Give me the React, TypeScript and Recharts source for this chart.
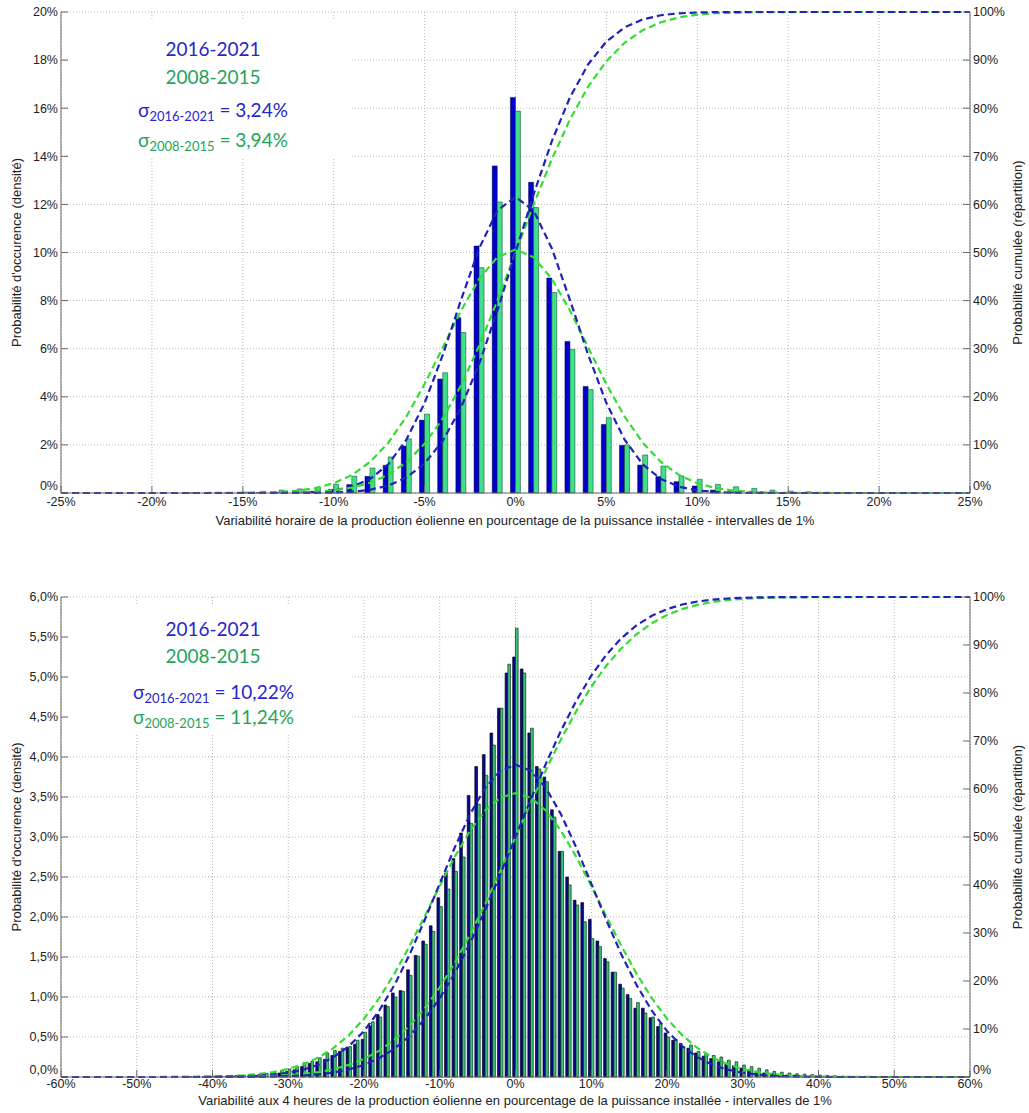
import React from 'react';
import { ComposedChart, Bar, Line, XAxis, YAxis, CartesianGrid } from 'recharts';

// ---------- TOP PANEL (hourly variability, 1% bins) ----------
const TOP_X = [-25,-24,-23,-22,-21,-20,-19,-18,-17,-16,-15,-14,-13,-12,-11,-10,-9,-8,-7,-6,-5,-4,-3,-2,-1,0,1,2,3,4,5,6,7,8,9,10,11,12,13,14,15,16,17,18,19,20,21,22,23,24,25];
const TOP_BLUE = [0,0,0,0,0,0,0,0,0,0,0.005,0.01,0.02,0.03,0.07,0.15,0.35,0.69,1.15,1.95,3.03,4.74,7.29,10.27,13.6,16.45,12.92,8.94,6.3,4.43,2.85,1.98,1.16,0.68,0.47,0.29,0.12,0.05,0.03,0.01,0.005,0,0,0,0,0,0,0,0,0,0];
const TOP_GREEN = [0,0,0,0,0,0,0,0.005,0.01,0.02,0.04,0.07,0.12,0.17,0.24,0.36,0.7,1.04,1.5,2.25,3.28,5.0,6.67,9.37,12.1,15.88,11.87,8.34,5.97,4.3,3.13,2.0,1.58,1.12,0.71,0.57,0.36,0.26,0.19,0.12,0.08,0.05,0.03,0.02,0.01,0,0,0,0,0,0];
const TOP_PDF_BLUE = [0,0,0,0,0,0,0,0,0,0,0,0.001,0.004,0.013,0.039,0.105,0.26,0.58,1.19,2.22,3.74,5.74,8.02,10.17,11.74,12.31,11.74,10.17,8.02,5.74,3.74,2.22,1.19,0.58,0.26,0.105,0.039,0.013,0.004,0.001,0,0,0,0,0,0,0,0,0,0,0];
const TOP_PDF_GREEN = [0,0,0,0,0,0,0,0,0.001,0.003,0.007,0.018,0.044,0.098,0.206,0.404,0.745,1.29,2.09,3.18,4.53,6.05,7.58,8.9,9.8,10.13,9.8,8.9,7.58,6.05,4.53,3.18,2.09,1.29,0.745,0.404,0.206,0.098,0.044,0.018,0.007,0.003,0.001,0,0,0,0,0,0,0,0];
const TOP_CDF_BLUE = [0,0,0,0,0,0,0,0,0,0,0,0,0.003,0.01,0.03,0.1,0.27,0.68,1.54,3.2,6.14,10.85,17.72,26.85,37.88,50,62.12,73.15,82.28,89.15,93.86,96.8,98.46,99.32,99.73,99.9,99.97,99.99,99.997,100,100,100,100,100,100,100,100,100,100,100,100];
const TOP_CDF_GREEN = [0,0,0,0,0,0,0,0,0,0.002,0.007,0.02,0.05,0.12,0.26,0.56,1.12,2.12,3.78,6.39,10.22,15.5,22.32,30.59,39.98,50,60.02,69.41,77.68,84.5,89.78,93.61,96.22,97.88,98.88,99.44,99.74,99.88,99.95,99.98,99.993,99.998,100,100,100,100,100,100,100,100,100];
const TOP_X_TICKS = [-25,-20,-15,-10,-5,0,5,10,15,20,25];
const TOP_Y_TICKS = [0,2,4,6,8,10,12,14,16,18,20];

// ---------- BOTTOM PANEL (4-hour variability, 1% bins) ----------
const BOT_BAR_X = [-45,-44,-43,-42,-41,-40,-39,-38,-37,-36,-35,-34,-33,-32,-31,-30,-29,-28,-27,-26,-25,-24,-23,-22,-21,-20,-19,-18,-17,-16,-15,-14,-13,-12,-11,-10,-9,-8,-7,-6,-5,-4,-3,-2,-1,0,1,2,3,4,5,6,7,8,9,10,11,12,13,14,15,16,17,18,19,20,21,22,23,24,25,26,27,28,29,30,31,32,33,34,35,36,37,38,39,40,41,42,43,44,45];
const BOT_BLUE = [0,0,0.001,0.002,0.003,0.005,0.006,0.008,0.01,0.012,0.015,0.02,0.03,0.04,0.05,0.07,0.09,0.13,0.17,0.19,0.22,0.27,0.32,0.37,0.41,0.47,0.64,0.78,0.9,1.05,1.08,1.34,1.52,1.7,1.89,2.24,2.55,2.73,3.05,3.52,3.88,4.03,4.3,4.61,5.05,5.25,5.1,4.3,3.88,3.75,3.34,2.82,2.5,2.21,2.18,1.97,1.7,1.48,1.31,1.16,1.03,0.86,0.86,0.74,0.63,0.55,0.46,0.42,0.36,0.3,0.26,0.23,0.19,0.16,0.14,0.11,0.09,0.07,0.05,0.04,0.03,0.025,0.02,0.015,0.01,0.01,0.005,0.005,0.003,0.002,0.001];
const BOT_GREEN = [0.002,0.003,0.004,0.005,0.007,0.01,0.012,0.015,0.018,0.02,0.025,0.03,0.045,0.06,0.08,0.1,0.13,0.18,0.2,0.24,0.3,0.33,0.36,0.38,0.46,0.56,0.69,0.75,0.88,1.0,1.07,1.27,1.51,1.66,1.82,2.13,2.35,2.57,2.75,3.17,3.41,3.77,4.15,4.61,5.16,5.61,5.05,4.36,3.85,3.69,3.25,2.82,2.4,2.15,1.94,1.73,1.63,1.44,1.31,1.11,0.98,0.93,0.8,0.75,0.67,0.5,0.47,0.38,0.4,0.32,0.29,0.27,0.25,0.21,0.19,0.15,0.13,0.11,0.09,0.07,0.06,0.05,0.04,0.035,0.03,0.025,0.02,0.015,0.01,0.008,0.005];
const BOT_CURVE_X = [-60,-58,-56,-54,-52,-50,-48,-46,-44,-42,-40,-38,-36,-34,-32,-30,-28,-26,-24,-22,-20,-18,-16,-14,-12,-10,-8,-6,-4,-2,0,2,4,6,8,10,12,14,16,18,20,22,24,26,28,30,32,34,36,38,40,42,44,46,48,50,52,54,56,58,60];
const BOT_PDF_BLUE = [0,0,0,0,0,0,0,0,0,0,0.002,0.004,0.008,0.015,0.029,0.053,0.092,0.153,0.248,0.385,0.575,0.828,1.146,1.527,1.959,2.418,2.873,3.285,3.615,3.829,3.903,3.829,3.615,3.285,2.873,2.418,1.959,1.527,1.146,0.828,0.575,0.385,0.248,0.153,0.092,0.053,0.029,0.015,0.008,0.004,0.002,0,0,0,0,0,0,0,0,0,0];
const BOT_PDF_GREEN = [0,0,0,0,0,0,0,0.001,0.002,0.003,0.006,0.012,0.021,0.037,0.062,0.101,0.16,0.244,0.363,0.523,0.729,0.985,1.289,1.634,2.007,2.389,2.755,3.078,3.331,3.493,3.549,3.493,3.331,3.078,2.755,2.389,2.007,1.634,1.289,0.985,0.729,0.523,0.363,0.244,0.16,0.101,0.062,0.037,0.021,0.012,0.006,0.003,0.002,0.001,0,0,0,0,0,0,0];
const BOT_CDF_BLUE = [0,0,0,0,0,0,0,0,0,0,0,0.01,0.02,0.04,0.09,0.17,0.31,0.55,0.94,1.57,2.52,3.91,5.87,8.54,12.02,16.39,21.69,27.86,34.78,42.24,50,57.76,65.22,72.14,78.31,83.61,87.98,91.46,94.13,96.09,97.48,98.43,99.06,99.45,99.69,99.83,99.91,99.96,99.98,99.99,100,100,100,100,100,100,100,100,100,100,100];
const BOT_CDF_GREEN = [0,0,0,0,0,0,0,0,0.01,0.01,0.02,0.04,0.07,0.12,0.22,0.38,0.64,1.03,1.64,2.52,3.76,5.46,7.73,10.65,14.28,18.68,23.83,29.67,36.1,42.94,50,57.06,63.9,70.33,76.17,81.32,85.72,89.35,92.27,94.54,96.24,97.48,98.36,98.97,99.36,99.62,99.78,99.88,99.93,99.96,99.98,99.99,99.99,100,100,100,100,100,100,100,100];
const BOT_X_TICKS = [-60,-50,-40,-30,-20,-10,0,10,20,30,40,50,60];
const BOT_Y_TICKS = [0,0.5,1,1.5,2,2.5,3,3.5,4,4.5,5,5.5,6];

const CDF_TICKS = [0,10,20,30,40,50,60,70,80,90,100];

// ---------- build rows ----------
type Row = { x: number; blue?: number; green?: number; pdfB?: number; pdfG?: number; cdfB?: number; cdfG?: number };

const topRows: Row[] = TOP_X.map((x, i) => ({
  x, blue: TOP_BLUE[i], green: TOP_GREEN[i], pdfB: TOP_PDF_BLUE[i], pdfG: TOP_PDF_GREEN[i], cdfB: TOP_CDF_BLUE[i], cdfG: TOP_CDF_GREEN[i],
}));

const botMap = new Map<number, Row>();
const getRow = (x: number) => { if (!botMap.has(x)) botMap.set(x, { x }); return botMap.get(x)!; };
BOT_BAR_X.forEach((x, i) => { const r = getRow(x); r.blue = BOT_BLUE[i]; r.green = BOT_GREEN[i]; });
BOT_CURVE_X.forEach((x, i) => { const r = getRow(x); r.pdfB = BOT_PDF_BLUE[i]; r.pdfG = BOT_PDF_GREEN[i]; r.cdfB = BOT_CDF_BLUE[i]; r.cdfG = BOT_CDF_GREEN[i]; });
const botRows: Row[] = Array.from(botMap.values()).sort((a, b) => a.x - b.x);

// ---------- styles ----------
const AXIS_COLOR = '#6a6a6a';
const LABEL_FONT = "'Liberation Sans', Arial, sans-serif";
const ANNOT_FONT = "Lato, 'Open Sans', sans-serif";
const TICK_STYLE = { fontSize: 12.5, fill: '#222', fontFamily: LABEL_FONT };
const LINE_BLUE = '#1f22b8';
const LINE_GREEN = '#33dd33';
const TXT_BLUE = '#2626cc';
const TXT_GREEN = '#1fa35a';

// y tick renderer: the 0 label is lifted a little, as in the reference
function makeYTick(fmt: (v: number) => string) {
  return (props: any) => {
    const { x, y, payload, textAnchor } = props;
    const v = payload.value as number;
    return (
      <text
        x={x}
        y={y - (v === 0 ? 7 : 0)}
        dy="0.35em"
        textAnchor={textAnchor}
        fontSize={12.5}
        fill="#222"
        fontFamily={LABEL_FONT}
      >
        {fmt(v)}
      </text>
    );
  };
}

const pct = (v: number) => `${v}%`;

type PanelProps = {
  rows: Row[];
  xDomain: [number, number];
  xTicks: number[];
  yMax: number;
  yTicks: number[];
  yFmt: (v: number) => string;
  barSize: number;
  height: number;
  marginTop: number;
  xAxisHeight: number;
  barStroke: number;
  blueFill: string;
  blueStroke: string;
  greenFill: string;
  greenStroke: string;
  tickMargin: number;
};

function Panel(p: PanelProps) {
  return (
    <ComposedChart
      width={1029}
      height={p.height}
      data={p.rows}
      margin={{ top: p.marginTop, right: 0, bottom: 0, left: 0 }}
      barGap={0}
      barSize={p.barSize}
    >
      <CartesianGrid xAxisId="b" yAxisId="l" stroke="#b8b8b8" strokeDasharray="1 2" />
      <XAxis
        xAxisId="b"
        dataKey="x"
        type="number"
        domain={p.xDomain}
        ticks={p.xTicks}
        interval={0}
        height={p.xAxisHeight}
        tickSize={-7}
        tickMargin={p.tickMargin}
        stroke={AXIS_COLOR}
        tick={TICK_STYLE}
        tickFormatter={pct}
      />
      <XAxis
        xAxisId="t"
        orientation="top"
        dataKey="x"
        type="number"
        domain={p.xDomain}
        ticks={p.xTicks}
        interval={0}
        height={0}
        tickSize={-7}
        stroke={AXIS_COLOR}
        tick={TICK_STYLE}
        tickFormatter={() => ''}
      />
      <YAxis
        yAxisId="l"
        domain={[0, p.yMax]}
        ticks={p.yTicks}
        interval={0}
        width={61}
        tickSize={-7}
        tickMargin={10}
        stroke={AXIS_COLOR}
        tick={makeYTick(p.yFmt)}
      />
      <YAxis
        yAxisId="r"
        orientation="right"
        domain={[0, 100]}
        ticks={CDF_TICKS}
        interval={0}
        width={59}
        tickSize={-7}
        tickMargin={10}
        stroke={AXIS_COLOR}
        tick={makeYTick(pct)}
      />
      <Bar xAxisId="b" yAxisId="l" dataKey="blue" fill={p.blueFill} stroke={p.blueStroke} strokeWidth={p.barStroke} isAnimationActive={false} />
      <Bar xAxisId="b" yAxisId="l" dataKey="green" fill={p.greenFill} stroke={p.greenStroke} strokeWidth={p.barStroke} isAnimationActive={false} />
      <Line xAxisId="b" yAxisId="l" dataKey="pdfG" type="linear" stroke={LINE_GREEN} strokeWidth={2.2} strokeDasharray="7 4" dot={false} connectNulls isAnimationActive={false} />
      <Line xAxisId="b" yAxisId="l" dataKey="pdfB" type="linear" stroke={LINE_BLUE} strokeWidth={2.2} strokeDasharray="7 4" dot={false} connectNulls isAnimationActive={false} />
      <Line xAxisId="b" yAxisId="r" dataKey="cdfG" type="linear" stroke={LINE_GREEN} strokeWidth={2.2} strokeDasharray="7 4" dot={false} connectNulls isAnimationActive={false} />
      <Line xAxisId="b" yAxisId="r" dataKey="cdfB" type="linear" stroke={LINE_BLUE} strokeWidth={2.2} strokeDasharray="7 4" dot={false} connectNulls isAnimationActive={false} />
    </ComposedChart>
  );
}

function Sigma({ x, y, color, period, value }: { x: number; y: number; color: string; period: string; value: string }) {
  return (
    <text x={x} y={y} fill={color} fontFamily={ANNOT_FONT} fontSize={19}>
      σ
      <tspan fontSize={13} dy={4}>{period}</tspan>
      <tspan dy={-4}>{` = ${value}`}</tspan>
    </text>
  );
}

function Overlay() {
  return (
    <svg width={1029} height={1113} style={{ position: 'absolute', left: 0, top: 0, pointerEvents: 'none' }}>
      {/* white legend boxes hiding the grid */}
      <rect x={69} y={20} width={281} height={137} fill="#fff" />
      <rect x={69} y={605} width={281} height={128} fill="#fff" />

      {/* top annotations */}
      <text x={213} y={56} textAnchor="middle" fill={TXT_BLUE} fontFamily={ANNOT_FONT} fontSize={19}>2016-2021</text>
      <text x={213} y={83.5} textAnchor="middle" fill={TXT_GREEN} fontFamily={ANNOT_FONT} fontSize={19}>2008-2015</text>
      <Sigma x={138} y={117} color={TXT_BLUE} period="2016-2021" value="3,24%" />
      <Sigma x={138} y={147} color={TXT_GREEN} period="2008-2015" value="3,94%" />

      {/* bottom annotations */}
      <text x={213} y={636} textAnchor="middle" fill={TXT_BLUE} fontFamily={ANNOT_FONT} fontSize={19}>2016-2021</text>
      <text x={213} y={663} textAnchor="middle" fill={TXT_GREEN} fontFamily={ANNOT_FONT} fontSize={19}>2008-2015</text>
      <Sigma x={133} y={698.5} color={TXT_BLUE} period="2016-2021" value="10,22%" />
      <Sigma x={133} y={724} color={TXT_GREEN} period="2008-2015" value="11,24%" />

      {/* axis titles, top panel */}
      <text x={0} y={0} transform="translate(21,252.5) rotate(-90)" textAnchor="middle" fontFamily={LABEL_FONT} fontSize={13} fill="#222">Probabilité d'occurence (densité)</text>
      <text x={0} y={0} transform="translate(1022,252.5) rotate(-90)" textAnchor="middle" fontFamily={LABEL_FONT} fontSize={13} fill="#222">Probabilité cumulée (répartition)</text>
      <text x={515} y={525} textAnchor="middle" fontFamily={LABEL_FONT} fontSize={13} fill="#222">Variabilité horaire de la production éolienne en pourcentage de la puissance installée - intervalles de 1%</text>

      {/* axis titles, bottom panel */}
      <text x={0} y={0} transform="translate(21,837) rotate(-90)" textAnchor="middle" fontFamily={LABEL_FONT} fontSize={13} fill="#222">Probabilité d'occurence (densité)</text>
      <text x={0} y={0} transform="translate(1022,837) rotate(-90)" textAnchor="middle" fontFamily={LABEL_FONT} fontSize={13} fill="#222">Probabilité cumulée (répartition)</text>
      <text x={515} y={1105} textAnchor="middle" fontFamily={LABEL_FONT} fontSize={13} fill="#222">Variabilité aux 4 heures de la production éolienne en pourcentage de la puissance installée - intervalles de 1%</text>
    </svg>
  );
}

export default function App() {
  return (
    <div style={{ position: 'absolute', left: 0, top: 0, width: 1029, height: 1113, background: '#fff', fontFamily: LABEL_FONT }}>
      <div style={{ position: 'absolute', left: 0, top: 0 }}>
        <Panel
          rows={topRows}
          xDomain={[-25, 25]}
          xTicks={TOP_X_TICKS}
          yMax={20}
          yTicks={TOP_Y_TICKS}
          yFmt={pct}
          barSize={5}
          height={555}
          marginTop={12}
          xAxisHeight={62}
          barStroke={0.5}
          blueFill="#0000cc"
          blueStroke="#000040"
          greenFill="#3fdf8c"
          greenStroke="#0a3a1a"
          tickMargin={11}
        />
      </div>
      <div style={{ position: 'absolute', left: 0, top: 555 }}>
        <Panel
          rows={botRows}
          xDomain={[-60, 60]}
          xTicks={BOT_X_TICKS}
          yMax={6}
          yTicks={BOT_Y_TICKS}
          yFmt={(v: number) => `${v.toFixed(1).replace('.', ',')}%`}
          barSize={2.7}
          height={558}
          marginTop={42}
          xAxisHeight={36}
          barStroke={0.7}
          blueFill="#08088a"
          blueStroke="#000022"
          greenFill="#3cc47e"
          greenStroke="#0a3018"
          tickMargin={9}
        />
      </div>
      <Overlay />
    </div>
  );
}
